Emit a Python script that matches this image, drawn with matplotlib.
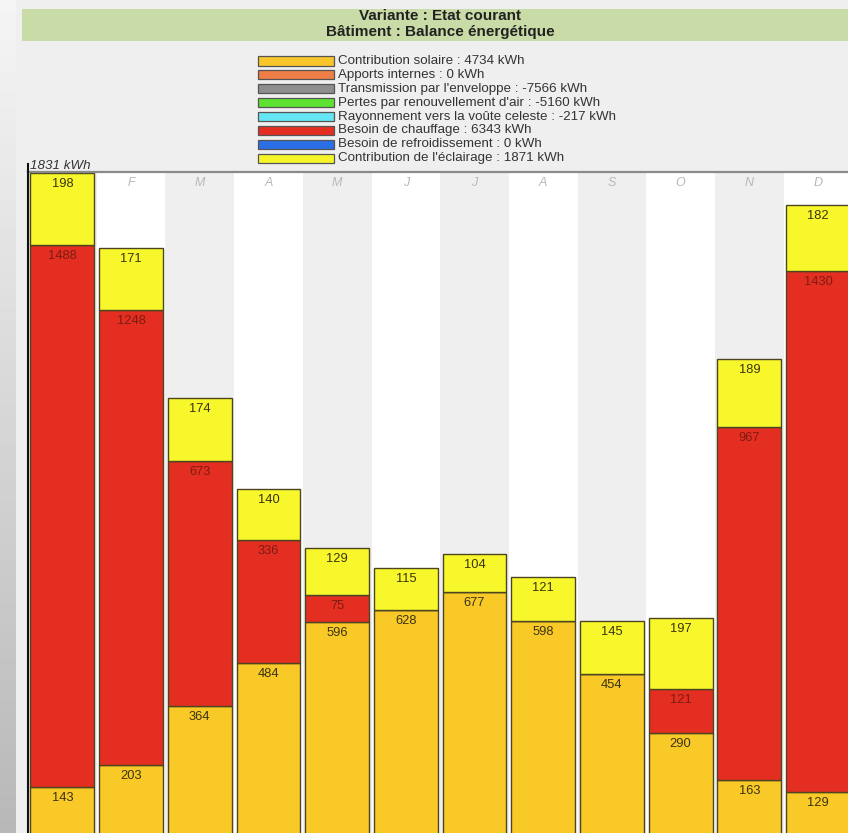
import numpy as np
import matplotlib
matplotlib.use("Agg")
import matplotlib.pyplot as plt
from matplotlib.patches import Rectangle

plt.rcParams['font.family'] = ['Liberation Sans', 'DejaVu Sans']

# monthly values (kWh)
months = ['J', 'F', 'M', 'A', 'M', 'J', 'J', 'A', 'S', 'O', 'N', 'D']
solaire = [143, 203, 364, 484, 596, 628, 677, 598, 454, 290, 163, 129]
chauffage = [1488, 1248, 673, 336, 75, 0, 0, 0, 0, 121, 967, 1430]
eclairage = [198, 171, 174, 140, 129, 115, 104, 121, 145, 197, 189, 182]
y_max = 1831

legend_labels = ["Contribution solaire : 4734 kWh",
                 "Apports internes : 0 kWh",
                 "Transmission par l'enveloppe : -7566 kWh",
                 "Pertes par renouvellement d'air : -5160 kWh",
                 "Rayonnement vers la voûte celeste : -217 kWh",
                 "Besoin de chauffage : 6343 kWh",
                 "Besoin de refroidissement : 0 kWh",
                 "Contribution de l'éclairage : 1871 kWh"]
legend_colors = ['#f8c52a', '#ee7d46', '#8e8e8e', '#5ee232',
                 '#66e6f4', '#e42e22', '#2b6fe6', '#f5f52a']

c_solaire = '#f9c927'
c_chauffage = '#e52e22'
c_eclairage = '#f7f72b'

W, H = 848, 833
fig = plt.figure(figsize=(W / 100, H / 100), dpi=100)
fig.patch.set_facecolor('#efefef')


def fx(px):
    return px / W


def fy(py):
    return 1 - py / H


# photo background strip on the far left
bg = fig.add_axes([0, 0, fx(16), 1])
grad = np.linspace(0.96, 0.72, 200).reshape(-1, 1)
bg.imshow(grad, aspect='auto', cmap='gray', vmin=0, vmax=1, extent=[0, 1, 0, 1])
bg.axis('off')

# title band
fig.patches.append(Rectangle((fx(22), fy(41)), 1, fy(9) - fy(41),
                             transform=fig.transFigure, facecolor='#c9dba6',
                             edgecolor='none'))
fig.text(fx(440), fy(16), "Variante : Etat courant", ha='center', va='center',
         fontsize=11, fontweight='bold', color='#222222')
fig.text(fx(440), fy(32), "Bâtiment : Balance énergétique", ha='center', va='center',
         fontsize=11, fontweight='bold', color='#222222')

# legend
for k, (lab, col) in enumerate(zip(legend_labels, legend_colors)):
    yc = 61 + 13.9 * k
    fig.patches.append(Rectangle((fx(258), fy(yc + 4.5)), fx(334) - fx(258), fy(yc - 4.5) - fy(yc + 4.5),
                                 transform=fig.transFigure, facecolor=col,
                                 edgecolor='#555555', linewidth=0.9))
    fig.text(fx(338), fy(yc), lab, ha='left', va='center', fontsize=9.6, color='#333333')

# main plot area (extends slightly past the right and bottom edges)
left, top, bottom = 28, 172, 839
col_w = 68.7
ax = fig.add_axes([fx(left), fy(bottom), fx(12 * col_w), fy(top) - fy(bottom)])
ax.set_xlim(0, 12)
ax.set_ylim(0, y_max)
for i in range(12):
    ax.axvspan(i, i + 1, color='#efefef' if i % 2 == 0 else 'white', zorder=0, linewidth=0)

x = np.arange(12) + 0.5
sol = np.array(solaire)
chf = np.array(chauffage)
ecl = np.array(eclairage)
tot = sol + chf + ecl
bw = 0.93
ec = '#4d4520'
ax.bar(x, sol, width=bw, color=c_solaire, edgecolor=ec, linewidth=1, zorder=2)
ax.bar(x, chf, bottom=sol, width=bw, color=c_chauffage, edgecolor=ec, linewidth=1, zorder=2)
ax.bar(x, ecl, bottom=sol + chf, width=bw, color=c_eclairage, edgecolor=ec, linewidth=1, zorder=2)

# segment labels near the top of each segment
for i in range(12):
    segs = [(sol[i], sol[i], '#3b3414'),
            (chf[i], sol[i] + chf[i], '#7c1d12'),
            (ecl[i], tot[i], '#3b3414')]
    for val, ytop, tc in segs:
        if val > 0:
            ax.annotate(str(val), (x[i], ytop), xytext=(0, -11), textcoords='offset pixels',
                        ha='center', va='center', fontsize=9.3, color=tc, zorder=4)
    # month letter, hidden when the bar reaches the top
    if tot[i] < 0.98 * y_max:
        ax.annotate(months[i], (x[i], y_max), xytext=(0, -11), textcoords='offset pixels',
                    ha='center', va='center', fontsize=9, style='italic', color='#b8b8b8', zorder=1)

ax.set_xticks([])
ax.set_yticks([])
for s in ['right', 'bottom']:
    ax.spines[s].set_visible(False)
ax.spines['top'].set_color('#8a8a8a')
ax.spines['top'].set_linewidth(1.6)
ax.spines['left'].set_color('#111111')
ax.spines['left'].set_linewidth(1.5)

# axis line sticking up above the plot and the max label
fig.add_artist(plt.Line2D([fx(left), fx(left)], [fy(top), fy(164)], color='#111111',
                          linewidth=1.5, transform=fig.transFigure))
fig.text(fx(30), fy(166), "1831 kWh", ha='left', va='center', fontsize=9.6,
         style='italic', color='#333333')

fig.savefig('out.png', dpi=100, facecolor=fig.get_facecolor())
